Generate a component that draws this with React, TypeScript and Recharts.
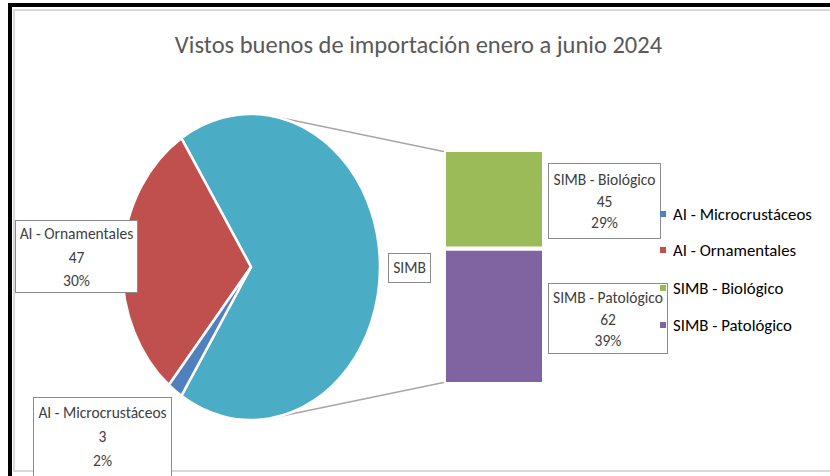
import React from 'react';
import { PieChart, Pie, BarChart, Bar, XAxis, YAxis } from 'recharts';

const pieNames = ['AI - Ornamentales', 'AI - Microcrustáceos'];
const pieValues = [47, 3];
const barNames = ['SIMB - Biológico', 'SIMB - Patológico'];
const barValues = [45, 62];
const groupName = 'SIMB';

const legendNames = ['AI - Microcrustáceos', 'AI - Ornamentales', 'SIMB - Biológico', 'SIMB - Patológico'];
const legendColors = ['#4F81BD', '#C0504D', '#9BBB59', '#8064A2'];

const FONT = "'Liberation Sans Narrow', 'Arial Narrow', Carlito, Calibri, sans-serif";
const TEXT = '#404040';

const simbTotal = barValues[0] + barValues[1];
const grandTotal = simbTotal + pieValues[0] + pieValues[1];
const pct = (v: number) => `${Math.round((v / grandTotal) * 100)}%`;

const pieData = [
  { name: groupName, value: simbTotal, color: '#4BACC6' },
  { name: pieNames[0], value: pieValues[0], color: '#C0504D' },
  { name: pieNames[1], value: pieValues[1], color: '#4F81BD' },
];
const barData = [{ name: groupName, bio: barValues[0], pato: barValues[1] }];

// pie geometry (the pie is drawn as an ellipse, like the stretched Excel plot)
const PIE_CX = 251;
const PIE_CY = 267;
const PIE_R = 129;
const RATIO = 153 / 129;
const simbAngle = (simbTotal / grandTotal) * 360;
const START = -simbAngle / 2;

const BAR_LEFT = 444;
const BAR_TOP = 150;
const BAR_W = 100;
const BAR_H = 234;

const RAD = Math.PI / 180;

const EllipseSector = (props: any) => {
  const { cx, cy, outerRadius, startAngle, endAngle } = props;
  const rx = outerRadius;
  const ry = outerRadius * RATIO;
  const pt = (a: number) => [cx + rx * Math.cos(-a * RAD), cy + ry * Math.sin(-a * RAD)];
  const [x1, y1] = pt(startAngle);
  const [x2, y2] = pt(endAngle);
  const large = Math.abs(endAngle - startAngle) > 180 ? 1 : 0;
  const sweep = endAngle > startAngle ? 0 : 1;
  const d = `M${cx},${cy} L${x1},${y1} A${rx},${ry} 0 ${large} ${sweep} ${x2},${y2} Z`;
  const fill = props.payload?.color ?? props.fill;
  return <path d={d} fill={fill} stroke="#fff" strokeWidth={2.5} strokeLinejoin="round" />;
};

// tangent point from an outside point to the ellipse
const tangent = (px: number, py: number, upper: boolean) => {
  const ux = (px - PIE_CX) / PIE_R;
  const uy = (py - PIE_CY) / (PIE_R * RATIO);
  const len = Math.hypot(ux, uy);
  const base = Math.atan2(uy, ux);
  const off = Math.acos(1 / len);
  const t = upper ? base - off : base + off;
  return [PIE_CX + PIE_R * Math.cos(t), PIE_CY + PIE_R * RATIO * Math.sin(t)];
};

const boxStyle = (left: number, top: number, width: number, height: number, lh: number): React.CSSProperties => ({
  position: 'absolute',
  left,
  top,
  width,
  height,
  border: '1px solid #8c8c8c',
  background: '#fff',
  color: TEXT,
  fontFamily: FONT,
  fontSize: 15.5,
  lineHeight: `${lh}px`,
  textAlign: 'center',
  boxSizing: 'border-box',
  whiteSpace: 'nowrap',
});

const LabelBox = ({ lines, left, top, width, height, lh, pad }: any) => (
  <div style={{ ...boxStyle(left, top, width, height, lh), paddingTop: pad }}>
    {lines.map((l: string, i: number) => (
      <div key={i}>{l}</div>
    ))}
  </div>
);

export default function App() {
  const topA = tangent(BAR_LEFT + 2, BAR_TOP + 2, true);
  const botA = tangent(BAR_LEFT + 2, BAR_TOP + BAR_H - 2, false);
  return (
    <div style={{ position: 'absolute', left: 0, top: 0, width: 830, height: 476, overflow: 'hidden', background: '#fff' }}>
      {/* outer black frame + inner light border */}
      <div style={{ position: 'absolute', left: 8, top: 3, width: 900, height: 471, borderLeft: '4px solid #000', borderTop: '4px solid #000', borderBottom: '3px solid #000' }} />
      <div style={{ position: 'absolute', left: 13, top: 9, width: 900, height: 459, borderLeft: '2px solid #d9d9d9', borderTop: '2px solid #d9d9d9', borderBottom: '2px solid #d9d9d9' }} />

      <div style={{ position: 'absolute', left: 0, top: 31, width: 837, textAlign: 'center', fontFamily: FONT, fontSize: 24.5, color: '#595959', lineHeight: '28px' }}>
        Vistos buenos de importación enero a junio 2024
      </div>

      <svg width={830} height={476} style={{ position: 'absolute', left: 0, top: 0 }}>
        <line x1={topA[0]} y1={topA[1]} x2={BAR_LEFT + 2} y2={BAR_TOP + 2} stroke="#a6a6a6" strokeWidth={1.5} />
        <line x1={botA[0]} y1={botA[1]} x2={BAR_LEFT + 2} y2={BAR_TOP + BAR_H - 2} stroke="#a6a6a6" strokeWidth={1.5} />
      </svg>

      <div style={{ position: 'absolute', left: 0, top: 0 }}>
        <PieChart width={830} height={476} margin={{ top: 0, right: 0, bottom: 0, left: 0 }}>
          <Pie
            data={pieData}
            dataKey="value"
            nameKey="name"
            cx={PIE_CX}
            cy={PIE_CY}
            outerRadius={PIE_R}
            startAngle={START}
            endAngle={START + 360}
            stroke="#fff"
            shape={EllipseSector}
            inactiveShape={EllipseSector}
            activeShape={EllipseSector}
            isAnimationActive={false}
          />
        </PieChart>
      </div>

      <div style={{ position: 'absolute', left: BAR_LEFT, top: BAR_TOP }}>
        <BarChart width={BAR_W} height={BAR_H} data={barData} margin={{ top: 0, right: 0, bottom: 0, left: 0 }} barCategoryGap={0} barGap={0}>
          <XAxis dataKey="name" hide />
          <YAxis hide domain={[0, simbTotal]} />
          <Bar dataKey="pato" stackId="s" fill="#8064A2" stroke="#fff" strokeWidth={4} isAnimationActive={false} />
          <Bar dataKey="bio" stackId="s" fill="#9BBB59" stroke="#fff" strokeWidth={4} isAnimationActive={false} />
        </BarChart>
      </div>

      <LabelBox lines={[pieNames[0], String(pieValues[0]), pct(pieValues[0])]} left={15} top={220} width={123} height={73} lh={23.5} pad={1} />
      <LabelBox lines={[pieNames[1], String(pieValues[1]), pct(pieValues[1])]} left={33} top={397} width={139} height={80} lh={24} pad={3} />
      <LabelBox lines={[groupName]} left={388} top={253} width={43} height={30} lh={28} pad={0} />
      <LabelBox lines={[barNames[0], String(barValues[0]), pct(barValues[0])]} left={548} top={163} width={113} height={76} lh={21.5} pad={5} />
      <LabelBox lines={[barNames[1], String(barValues[1]), pct(barValues[1])]} left={548} top={283} width={120} height={71} lh={21.5} pad={3} />

      {legendNames.map((n, i) => (
        <div key={n} style={{ position: 'absolute', left: 660, top: [214, 250, 288, 325][i] - 10, height: 20, display: 'flex', alignItems: 'center', fontFamily: FONT, fontSize: 16.8, color: '#000', whiteSpace: 'nowrap' }}>
          <span style={{ display: 'inline-block', width: 6, height: 6, background: legendColors[i], marginRight: 7 }} />
          {n}
        </div>
      ))}
    </div>
  );
}
